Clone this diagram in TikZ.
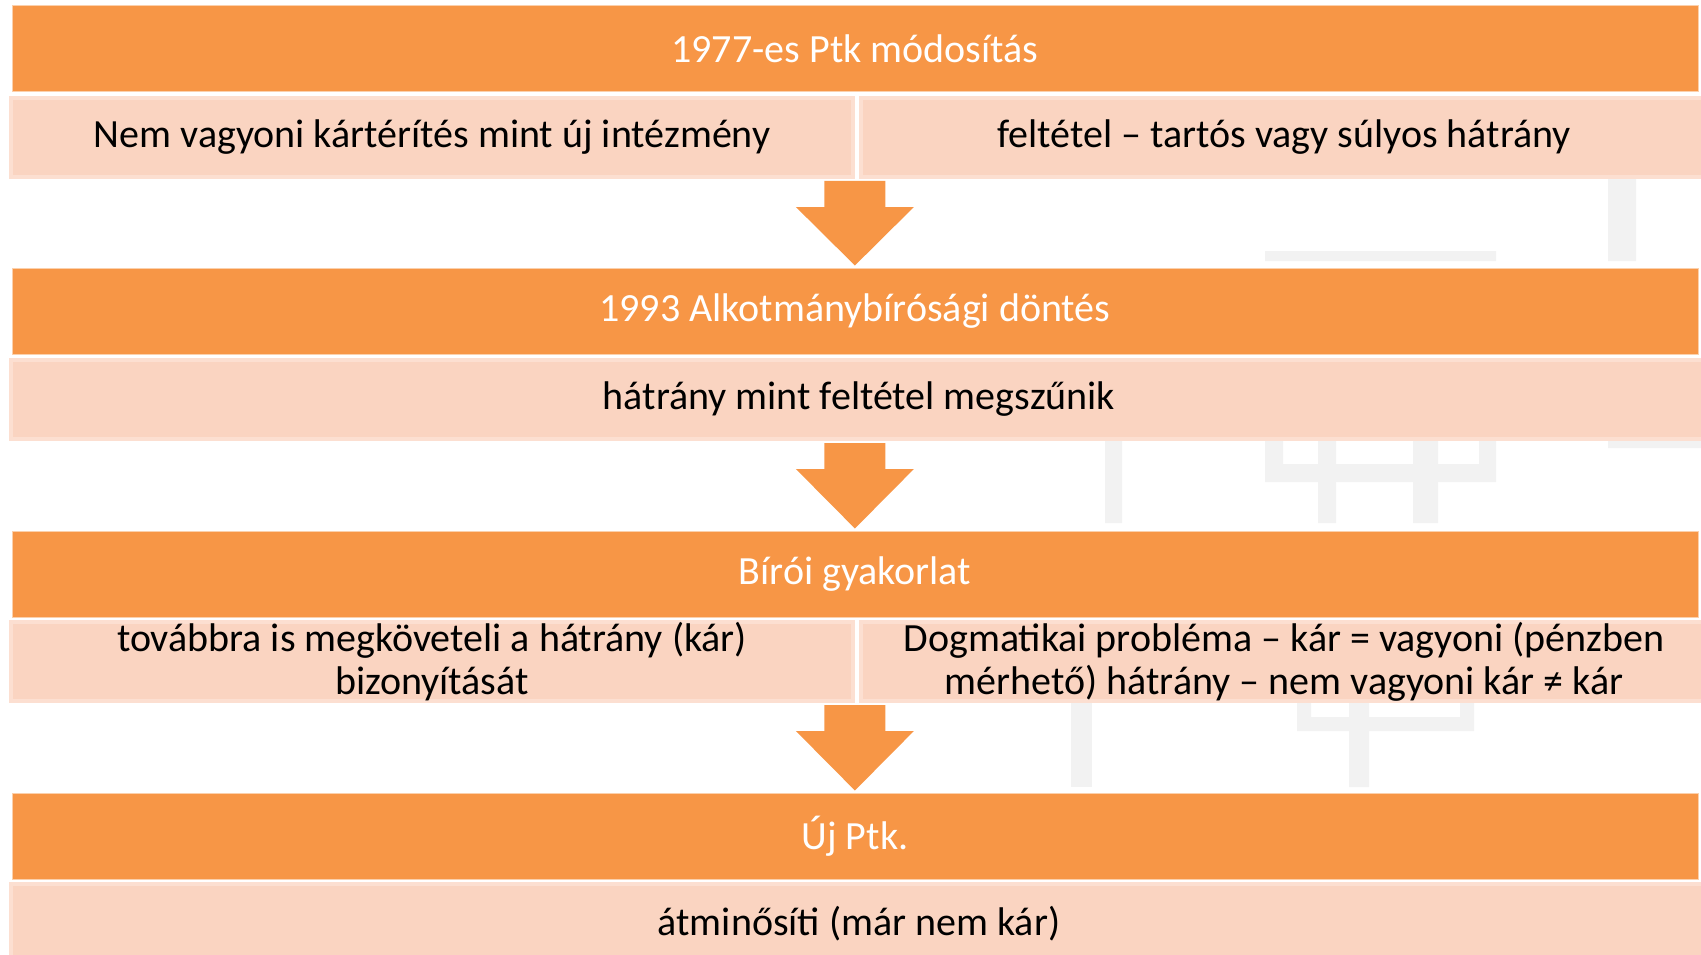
\documentclass[tikz,border=0pt]{standalone}
\usepackage{fontspec}
\setmainfont{Carlito}
\usetikzlibrary{calc}

\definecolor{hdrorange}{HTML}{F79646}
\definecolor{peach}{HTML}{FAD4C1}
\definecolor{peachrim}{HTML}{FCDFD1}
\definecolor{wmgray}{HTML}{F2F2F2}

\tikzset{
  hdr/.style={fill=hdrorange,draw=white!55!hdrorange,line width=0.8pt,
    minimum width=1686pt,minimum height=86pt,anchor=north west,inner sep=0pt,
    text=white,font=\fontsize{40}{43}\selectfont},
  sub/.style={fill=peach,draw=peachrim,line width=4pt,
    minimum height=79pt,anchor=north west,inner sep=0pt,
    align=center,font=\fontsize{40}{43}\selectfont},
  wm/.style={fill=wmgray}
}

% block arrow from a coordinate down to a node
\newcommand{\flowarrow}[2]{%
  \fill[hdrorange] ($(#1)+(-30.5,0)$) -- ($(#1)+(-30.5,26)$) -- ($(#1)+(-59,26)$)
    -- ($(#2.north)+(0,-2)$) -- ($(#1)+(59,26)$) -- ($(#1)+(30.5,26)$)
    -- ($(#1)+(30.5,0)$) -- cycle;}

\begin{document}
\begin{tikzpicture}[x=1pt,y=-1pt]
\useasboundingbox (0,0) rectangle (1701,955);

% watermark in the background
\fill[wm] (1608,176) rectangle (1636,261) (1265,251) rectangle (1496,261);
\fill[wm] (1608,440) rectangle (1701,448) (1105,440) rectangle (1122,523);
\fill[wm] (1265,440) rectangle (1283,482) (1479,440) rectangle (1496,482)
  (1265,464) rectangle (1496,482);
\fill[wm] (1318,440) rectangle (1336,523) (1413,440) rectangle (1438,523);
\fill[wm] (1071,701) rectangle (1092,787);
\fill[wm] (1297,701) rectangle (1311,731) (1460,701) rectangle (1474,731)
  (1297,717) rectangle (1474,731) (1349,701) rectangle (1369,787);

% headers
\node[hdr] (hdr1) at (11.5,5.5) {1977-es Ptk módosítás};
\node[hdr] (hdr2) at (11.5,267.5) {1993 Alkotmánybírósági döntés};
\node[hdr] (hdr3) at (11.5,530.5) {Bírói gyakorlat};
\node[hdr] (hdr4) at (11.5,792.5) {Új Ptk.};

% contents
\node[sub,minimum width=842pt] (sub1l) at (9,96) {Nem vagyoni kártérítés mint új intézmény};
\node[sub,minimum width=846pt] (sub1r) at (859,96) {feltétel – tartós vagy súlyos hátrány};
\node[sub,minimum width=1696pt] (sub2) at (9,358) {hátrány mint feltétel megszűnik};
\node[sub,minimum width=842pt] (sub3l) at (9,620) {továbbra is megköveteli a hátrány (kár)\\bizonyítását};
\node[sub,minimum width=846pt] (sub3r) at (859,620) {Dogmatikai probléma – kár = vagyoni (pénzben\\mérhető) hátrány – nem vagyoni kár ≠ kár};
\node[sub,minimum width=1696pt] (sub4) at (9,882) {átminősíti (már nem kár)};

% arrows
\coordinate (a1) at ($(hdr1.south |- sub1l.south)+(0,2)$);
\coordinate (a2) at ($(hdr2.south |- sub2.south)+(0,2)$);
\coordinate (a3) at ($(hdr3.south |- sub3l.south)+(0,2)$);
\flowarrow{a1}{hdr2}
\flowarrow{a2}{hdr3}
\flowarrow{a3}{hdr4}
\end{tikzpicture}
\end{document}
